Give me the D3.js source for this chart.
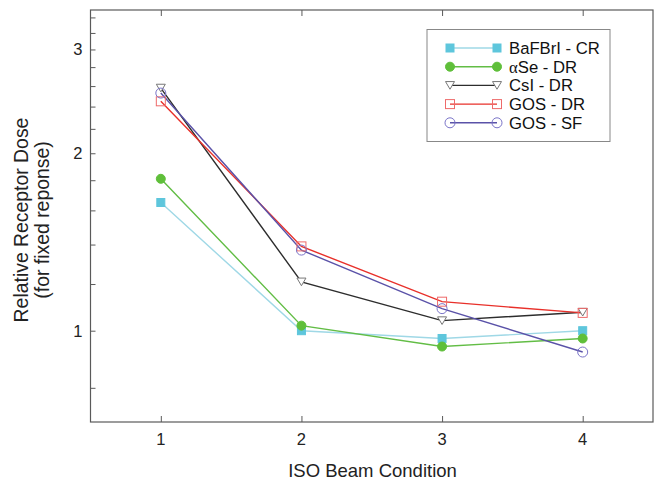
<!DOCTYPE html>
<html>
<head>
<meta charset="utf-8">
<script src="https://cdn.jsdelivr.net/npm/d3@7"></script>
<style>
  html, body { margin: 0; padding: 0; background: #fff; }
  svg { display: block; font-family: Arial, "Liberation Sans", sans-serif; }
</style>
</head>
<body>
<svg id="chart" width="656" height="480"></svg>
<script>
// ---- data ----
const conditions = [1, 2, 3, 4];
const seriesNames = ["BaFBrI - CR", "αSe - DR", "CsI - DR", "GOS - DR", "GOS - SF"];
const bafbriCR = [1.65, 1.00, 0.97, 1.00];
const aseDR    = [1.81, 1.02, 0.94, 0.97];
const csiDR    = [2.58, 1.21, 1.04, 1.075];
const gosDR    = [2.45, 1.39, 1.12, 1.072];
const gosSF    = [2.53, 1.37, 1.09, 0.92];
const yMajorTicks = [1, 2, 3];
const yMinorTicks = [0.8, 1.2, 1.4, 1.6, 1.8, 2.2, 2.4, 2.6, 2.8, 3.2, 3.4];
const xTicks = [1, 2, 3, 4];

const series = [
  { name: seriesNames[0], values: bafbriCR, line: "#9fd8e6", marker: "square", fill: "#5ec6dc", stroke: "#5ec6dc", size: 8 },
  { name: seriesNames[1], values: aseDR,    line: "#62bd45", marker: "circle", fill: "#5fbf3a", stroke: "#5fbf3a", size: 4.5 },
  { name: seriesNames[2], values: csiDR,    line: "#2d2d2d", marker: "triangle", fill: "#fff", stroke: "#777", size: 9 },
  { name: seriesNames[3], values: gosDR,    line: "#e8302a", marker: "square", fill: "none", stroke: "#ee6a6a", size: 9 },
  { name: seriesNames[4], values: gosSF,    line: "#5a52a8", marker: "circle", fill: "none", stroke: "#7a74c8", size: 5 }
];

// ---- layout ----
const svg = d3.select("#chart");
const m = { left: 90.5, right: 653, top: 10, bottom: 422 };
const x = d3.scaleLinear().domain([0.5, 4.5]).range([m.left, m.right]);
const y = d3.scaleLog().domain([0.7, 3.5]).range([m.bottom, m.top]);

const frame = "#5a5a5a";

// frame
svg.append("rect")
  .attr("x", m.left).attr("y", m.top)
  .attr("width", m.right - m.left).attr("height", m.bottom - m.top)
  .attr("fill", "none").attr("stroke", frame).attr("stroke-width", 1.2);

// y axis (ticks inside)
const yAxis = d3.axisRight(y).tickValues(yMajorTicks.concat(yMinorTicks)).tickSize(5).tickFormat("");
const gy = svg.append("g").attr("transform", `translate(${m.left},0)`).call(yAxis);
gy.select(".domain").remove();
gy.selectAll(".tick line").attr("stroke", frame).attr("stroke-width", 1);
yMajorTicks.forEach(v => {
  svg.append("text")
    .attr("x", m.left - 8).attr("y", y(v))
    .attr("dy", "0.36em")
    .attr("text-anchor", "end")
    .attr("font-size", 16.5).attr("fill", "#222")
    .text(v);
});

// x axis bottom (ticks inside)
const xAxis = d3.axisTop(x).tickValues(xTicks).tickSize(6).tickFormat("");
const gx = svg.append("g").attr("transform", `translate(0,${m.bottom})`).call(xAxis);
gx.select(".domain").remove();
gx.selectAll(".tick line").attr("stroke", frame);
// x axis top mirror
const xAxisTop = d3.axisBottom(x).tickValues(xTicks).tickSize(6).tickFormat("");
const gxt = svg.append("g").attr("transform", `translate(0,${m.top})`).call(xAxisTop);
gxt.select(".domain").remove();
gxt.selectAll(".tick line").attr("stroke", frame);
xTicks.forEach(v => {
  svg.append("text")
    .attr("x", x(v)).attr("y", 445)
    .attr("text-anchor", "middle")
    .attr("font-size", 16.5).attr("fill", "#222")
    .text(v);
});

// axis titles
svg.append("text")
  .attr("x", 372.5).attr("y", 477)
  .attr("text-anchor", "middle").attr("font-size", 18.5).attr("fill", "#222")
  .text("ISO Beam Condition");
const yt = svg.append("text")
  .attr("transform", `translate(28,220) rotate(-90)`)
  .attr("text-anchor", "middle").attr("font-size", 19.4).attr("fill", "#222");
yt.append("tspan").attr("x", 0).attr("dy", 0).text("Relative Receptor Dose");
yt.append("tspan").attr("x", 0).attr("dy", 21).text("(for fixed reponse)");

// marker drawer
function drawMarker(g, s, cx, cy) {
  if (s.marker === "square") {
    g.append("rect")
      .attr("x", cx - s.size / 2).attr("y", cy - s.size / 2)
      .attr("width", s.size).attr("height", s.size)
      .attr("fill", s.fill).attr("stroke", s.stroke).attr("stroke-width", 1);
  } else if (s.marker === "circle") {
    g.append("circle")
      .attr("cx", cx).attr("cy", cy).attr("r", s.size)
      .attr("fill", s.fill).attr("stroke", s.stroke).attr("stroke-width", 1);
  } else if (s.marker === "triangle") {
    const h = s.size * 0.85, w = s.size / 2;
    g.append("path")
      .attr("d", `M${cx - w},${cy - h / 2}L${cx + w},${cy - h / 2}L${cx},${cy + h / 2}Z`)
      .attr("fill", s.fill).attr("stroke", s.stroke).attr("stroke-width", 1);
  }
}

// lines & markers
const line = d3.line().x((d, i) => x(conditions[i])).y(d => y(d));
const plotG = svg.append("g");
series.forEach(s => {
  plotG.append("path")
    .datum(s.values)
    .attr("d", line)
    .attr("fill", "none")
    .attr("stroke", s.line)
    .attr("stroke-width", 1.4);
});
series.forEach(s => {
  const g = plotG.append("g");
  s.values.forEach((v, i) => drawMarker(g, s, x(conditions[i]), y(v)));
});

// legend
const lg = svg.append("g");
lg.append("rect")
  .attr("x", 427).attr("y", 29.5).attr("width", 183).attr("height", 112)
  .attr("fill", "#fff").attr("stroke", "#888").attr("stroke-width", 1);
series.forEach((s, i) => {
  const ly = 48 + i * 18.7;
  lg.append("line")
    .attr("x1", 450).attr("x2", 497).attr("y1", ly).attr("y2", ly)
    .attr("stroke", s.line).attr("stroke-width", 1.4);
  drawMarker(lg, s, 450, ly);
  drawMarker(lg, s, 497, ly);
  const t = lg.append("text")
    .attr("x", 509).attr("y", ly).attr("dy", "0.36em")
    .attr("font-size", 16.7).attr("fill", "#111");
  if (s.name.startsWith("α")) {
    t.append("tspan").attr("font-family", "'Liberation Serif', 'DejaVu Serif', serif").text("α");
    t.append("tspan").text(s.name.slice(1));
  } else {
    t.text(s.name);
  }
});
</script>
</body>
</html>
